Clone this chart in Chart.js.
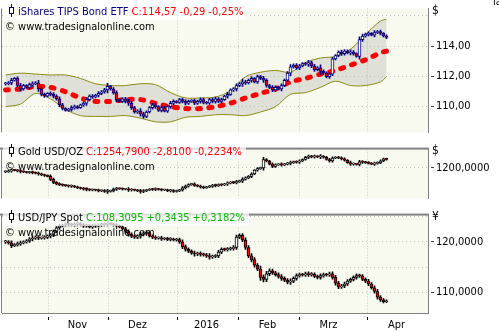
<!DOCTYPE html>
<html>
<head>
<meta charset="utf-8">
<script src="https://cdn.jsdelivr.net/npm/chart.js@4.4.1/dist/chart.umd.min.js"></script>
<style>
  body { margin: 0; background: #fff; width: 499px; height: 332px; overflow: hidden; position: relative;
         font-family: 'DejaVu Sans Condensed', 'DejaVu Sans', sans-serif; font-stretch: condensed; }
  canvas { position: absolute; left: 0; }
  .ttl { position: absolute; left: 3px; height: 17px; line-height: 17px; font-size: 11px; white-space: nowrap;
         background: rgba(255,255,255,0.72); padding: 0 4px 0 4px; z-index: 3; }
  .ttl svg { display: inline-block; vertical-align: -2px; margin-right: 3px; }
  .wm { position: absolute; left: 5px; height: 13px; line-height: 13px; font-size: 11px; white-space: nowrap; color: #000; z-index: 2; }
  .unit { position: absolute; left: 432px; font-size: 12px; line-height: 16px; }
</style>
</head>
<body>
<canvas id="p1" width="499" height="141" style="top:0;width:499px;height:141px"></canvas>
<canvas id="p2" width="499" height="66" style="top:141px;width:499px;height:66px"></canvas>
<canvas id="p3" width="499" height="125" style="top:207px;width:499px;height:125px"></canvas>

<div class="ttl" style="top:3px;color:#000080"><svg width="8" height="13"><path d="M4.5 0V13" stroke="#000080"/><rect x="2.5" y="3.5" width="4" height="6" fill="#fff" stroke="#000080"/></svg>iShares TIPS Bond ETF <span style="color:#f00">C:114,57 -0,29 -0,25%</span></div>
<div class="wm" style="top:20px">© www.tradesignalonline.com</div>

<div class="ttl" style="top:143px;color:#000"><svg width="8" height="13"><path d="M4.5 0V13" stroke="#000"/><rect x="2.5" y="3.5" width="4" height="6" fill="#fff" stroke="#000"/></svg>Gold USD/OZ <span style="color:#f00">C:1254,7900 -2,8100 -0,2234%</span></div>
<div class="wm" style="top:160px">© www.tradesignalonline.com</div>

<div class="ttl" style="top:209px;color:#000"><svg width="8" height="13"><path d="M4.5 0V13" stroke="#000"/><rect x="2.5" y="3.5" width="4" height="6" fill="#fff" stroke="#000"/></svg>USD/JPY Spot <span style="color:#00bb00">C:108,3095 +0,3435 +0,3182%</span></div>
<div class="wm" style="top:226px">© www.tradesignalonline.com</div>

<div class="unit" style="top:2px">$</div>
<div class="unit" style="top:142px">$</div>
<div class="unit" style="top:208px">¥</div>
<div style="position:absolute;left:493px;top:-5px;font-size:11px;line-height:13px">la</div>

<script>
// x axis: one unit per trading day, month boundaries as ticks
const monthTicks = [14.33, 34.33, 57.33, 77.67, 98, 120.67];
const monthLabels = ['Nov', 'Dez', '2016', 'Feb', 'Mrz', 'Apr'];

// iShares TIPS Bond ETF, daily closes
const tipsClose = [
  111.51,111.57,111.74,111.86,111.39,111.16,111.39,111.27,111.45,111.51,
  111.57,111.16,110.81,110.69,110.87,110.81,110.69,110.51,110.11,109.87,
  109.75,109.81,109.93,109.99,109.93,110.11,110.22,110.46,110.69,110.63,
  110.75,110.87,110.98,111.10,111.33,111.16,110.92,110.46,110.34,110.51,
  110.34,110.22,109.93,109.64,109.70,109.52,109.35,109.64,109.93,110.11,
  109.99,109.75,109.93,109.70,109.99,110.22,110.34,110.28,110.46,110.34,
  110.22,110.34,110.40,110.22,110.34,110.46,110.28,110.22,110.46,110.34,
  110.51,110.34,110.46,110.69,110.81,111.10,111.16,111.39,111.51,111.63,
  111.57,111.74,111.86,111.63,111.98,111.86,111.74,111.39,111.27,111.10,
  111.27,111.16,111.39,111.74,112.21,112.62,112.74,112.56,112.68,112.85,
  112.80,112.91,112.68,112.44,112.56,112.33,112.21,111.98,112.15,113.15,
  113.38,113.61,113.50,113.67,113.56,113.61,113.50,113.32,114.43,114.67,
  114.78,114.84,114.73,114.90,114.96,114.84,114.67,114.57
];
const tipsWick = [
  0.10,0.08,0.12,0.06,0.10,0.14,0.08,0.06,0.10,0.12,0.08,0.16,0.10,0.08,0.06,0.10,0.12,0.08,0.14,0.10,
  0.06,0.08,0.12,0.10,0.08,0.06,0.10,0.14,0.08,0.10,0.06,0.12,0.08,0.10,0.20,0.08,0.10,0.12,0.06,0.08,
  0.10,0.14,0.12,0.08,0.10,0.16,0.12,0.08,0.06,0.10,0.12,0.08,0.10,0.06,0.08,0.12,0.10,0.06,0.08,0.10,
  0.12,0.08,0.06,0.10,0.08,0.12,0.10,0.06,0.08,0.10,0.12,0.08,0.10,0.06,0.14,0.08,0.10,0.12,0.08,0.18,
  0.10,0.08,0.12,0.06,0.10,0.08,0.14,0.10,0.08,0.12,0.10,0.06,0.12,0.08,0.10,0.16,0.08,0.10,0.12,0.06,
  0.08,0.14,0.10,0.12,0.08,0.20,0.10,0.08,0.12,0.10,0.06,0.08,0.12,0.10,0.08,0.14,0.10,0.06,0.18,0.12,
  0.08,0.10,0.06,0.12,0.08,0.10,0.06,0.08
];
// Bollinger bands and moving average, sampled every 5 days
const bandDays = [0,5,10,15,20,25,30,35,40,45,50,55,60,65,70,75,80,85,90,95,100,105,110,115,120,125,127];
const tipsUpper = [112.09,112.21,112.15,112.09,112.09,111.86,111.51,111.39,111.39,111.51,111.45,110.92,110.57,110.57,
                   110.63,111.04,111.98,112.27,112.39,112.27,112.91,113.21,113.32,113.79,114.78,115.66,115.78];
const tipsLower = [109.99,110.16,110.87,110.51,109.81,109.40,109.35,109.35,109.40,109.23,108.99,108.99,109.29,109.35,
                   109.46,109.46,109.40,109.64,109.99,110.81,110.92,111.27,111.68,111.39,111.39,111.63,111.98];
const tipsAvg   = [111.10,111.16,111.33,111.27,110.98,110.57,110.34,110.34,110.46,110.46,110.22,109.99,109.87,109.87,
                   109.99,110.22,110.57,110.87,111.16,111.63,111.86,112.15,112.39,112.74,113.09,113.56,113.67];
const tipsTicks = [110, 112, 114, 116];
const tipsTickText = ['110,00', '112,00', '114,00', ''];

// Gold USD/OZ, daily closes
const goldClose = [
  1175.6,1180.5,1185.4,1184.0,1180.5,1176.8,1174.2,1170.7,1172.1,1169.5,
  1165.9,1161.0,1156.1,1151.2,1146.3,1126.8,1107.3,1097.6,1092.7,1088.9,
  1086.2,1082.9,1084.1,1078.0,1073.2,1068.3,1064.6,1062.2,1058.5,1060.3,
  1057.1,1053.7,1055.2,1048.8,1050.3,1053.7,1063.4,1068.3,1066.1,1063.4,
  1064.8,1058.5,1060.2,1057.0,1053.7,1048.8,1053.7,1058.5,1063.4,1061.9,
  1064.6,1062.1,1058.5,1059.9,1053.7,1055.1,1048.8,1053.7,1058.5,1073.2,
  1082.9,1092.7,1097.6,1087.8,1082.9,1078.0,1073.2,1078.0,1082.9,1087.8,
  1086.3,1092.7,1091.0,1097.6,1102.4,1107.3,1105.8,1112.2,1117.1,1126.8,
  1136.6,1146.3,1161.0,1185.4,1195.1,1200.0,1253.7,1243.9,1224.4,1209.8,
  1219.5,1224.4,1219.5,1224.4,1229.3,1234.1,1239.0,1237.2,1243.9,1253.7,
  1268.3,1273.2,1271.0,1274.5,1270.8,1273.2,1268.3,1253.7,1243.9,1263.4,
  1268.3,1263.4,1258.5,1248.8,1234.1,1224.4,1226.0,1222.1,1239.0,1237.4,
  1234.1,1229.3,1224.4,1229.3,1234.1,1243.9,1258.5,1254.79
];
const goldWick = [
  6,5,8,4,6,9,5,4,6,8,5,7,6,5,4,9,8,6,7,5,
  4,6,8,5,6,4,7,9,5,6,4,8,5,6,12,5,7,8,4,6,
  5,9,8,5,6,10,7,5,4,6,8,5,6,4,5,8,6,4,5,7,
  8,6,4,7,5,8,6,4,5,7,8,5,6,4,9,5,7,8,5,11,
  6,5,8,4,7,5,14,6,5,8,7,4,8,5,6,10,5,7,8,4,
  5,9,7,8,5,12,6,5,8,7,4,5,8,6,5,9,7,4,10,8,
  5,6,4,8,5,7,4,5
];
const goldTicks = [1200];
const goldTickText = ['1200,0000'];

// USD/JPY Spot, daily closes
const jpyClose = [
  120.00,119.81,119.26,119.44,119.63,119.81,120.00,120.19,120.56,120.74,
  120.93,120.74,120.80,120.93,121.11,121.30,122.04,122.78,123.15,123.33,
  123.52,123.45,123.33,123.52,123.60,123.33,123.15,123.22,122.96,123.15,
  123.08,123.33,123.40,123.52,123.61,123.50,123.33,123.15,122.96,122.59,
  122.04,121.48,121.11,120.93,121.11,121.48,121.67,121.85,121.11,120.93,
  120.74,120.80,120.56,120.62,120.50,120.56,120.37,120.44,120.00,119.07,
  118.52,118.15,117.78,117.59,117.66,117.52,117.41,117.22,117.04,117.10,
  117.22,117.96,118.52,118.45,118.58,118.70,118.89,120.93,121.30,120.37,
  118.89,117.22,116.48,115.37,114.63,112.96,112.59,113.70,114.26,113.89,
  113.52,113.15,112.78,112.41,112.04,112.22,112.78,113.33,113.52,113.45,
  113.70,113.52,113.60,113.15,112.96,113.33,113.52,113.45,113.70,112.96,
  111.85,111.11,111.30,111.67,112.22,112.59,112.96,113.33,113.26,112.59,
  112.22,111.67,110.93,110.19,109.07,108.52,108.15,108.31
];
const jpyWick = [
  0.30,0.25,0.40,0.20,0.30,0.35,0.20,0.25,0.30,0.40,0.25,0.30,0.20,0.25,0.30,0.35,0.30,0.25,0.30,0.20,
  0.25,0.30,0.20,0.25,0.35,0.20,0.30,0.25,0.20,0.30,0.25,0.20,0.30,0.25,0.35,0.20,0.25,0.30,0.20,0.25,
  0.30,0.35,0.30,0.25,0.30,0.40,0.30,0.25,0.20,0.30,0.25,0.20,0.30,0.20,0.25,0.30,0.20,0.25,0.30,0.40,
  0.35,0.30,0.25,0.40,0.30,0.35,0.25,0.30,0.45,0.30,0.25,0.35,0.30,0.25,0.30,0.25,0.35,0.40,0.30,0.35,
  0.40,0.35,0.45,0.40,0.35,0.60,0.50,0.45,0.40,0.35,0.30,0.35,0.40,0.30,0.35,0.45,0.30,0.35,0.30,0.25,
  0.30,0.35,0.30,0.25,0.30,0.35,0.30,0.25,0.30,0.35,0.40,0.35,0.30,0.35,0.30,0.25,0.30,0.35,0.30,0.25,
  0.30,0.35,0.30,0.35,0.40,0.30,0.25,0.20
];
const jpyTicks = [110, 115, 120, 125];
const jpyTickText = ['110,0000', '', '120,0000', ''];

const xMin = -7 / 6, xMax = xMin + 142;
const plotBg = '#F8FAF0';
const gridColor = '#C4C4C4';
const font = { family: "'DejaVu Sans Condensed', 'DejaVu Sans', sans-serif", size: 11 };

// cream plot area, left frame line, separator above the panel
const frame = {
  id: 'frame',
  beforeDraw(chart, args, opts) {
    const { ctx, chartArea: a } = chart;
    ctx.save();
    ctx.fillStyle = plotBg;
    ctx.fillRect(a.left, a.top, a.right - a.left, a.bottom - a.top);
    ctx.fillStyle = '#808080';
    ctx.fillRect(1, a.top, 1, a.bottom - a.top);
    if (opts.sep) ctx.fillRect(0, a.top - 2, a.right + 1, 2);
    ctx.restore();
  }
};

// candle bodies (open = previous close) and wicks as floating bars
const candleSets = (close, wick, edge, down) => {
  const bodies = [], sticks = [], fills = [];
  close.forEach((c, i) => {
    const o = i ? close[i - 1] : c;
    const w = wick[i] || 0;
    bodies.push({ x: i, y: [o, c] });
    sticks.push({ x: i, y: [Math.min(o, c) - w, Math.max(o, c) + w] });
    fills.push(c < o ? down : '#ffffff');
  });
  return [
    { type: 'bar', data: bodies, backgroundColor: fills, borderColor: edge, borderWidth: 1, borderSkipped: false,
      barThickness: 3, minBarLength: 1, grouped: false, order: 0 },
    { type: 'bar', data: sticks, backgroundColor: edge, borderWidth: 0, barThickness: 1, grouped: false, order: 1 }
  ];
};

const buildPanel = (id, p) => new Chart(document.getElementById(id), {
  type: 'line',
  data: { datasets: p.datasets },
  options: {
    responsive: false,
    animation: false,
    events: [],
    layout: { padding: { left: 2, right: 0, top: p.top, bottom: 0 } },
    plugins: { legend: { display: false }, tooltip: { enabled: false }, frame: { sep: p.sep } },
    scales: {
      x: {
        type: 'linear', min: xMin, max: xMax, offset: false,
        afterBuildTicks: s => { s.ticks = monthTicks.map(v => ({ value: v })); },
        afterFit: s => { s.height = p.bottom ? 19 : 0; },
        grid: { offset: false, color: gridColor, drawTicks: p.bottom, tickLength: 7, tickColor: '#000',
                tickBorderDash: [0, 3, 4, 20] },
        border: { display: p.bottom, color: '#808080', width: 1, dash: [1, 2] },
        ticks: { display: p.bottom, autoSkip: false, maxRotation: 0, labelOffset: 29, padding: -1, font, color: '#000',
                 callback: (v, i) => monthLabels[i] }
      },
      y: {
        position: 'right', min: p.min, max: p.max,
        afterBuildTicks: s => { s.ticks = p.ticks.map(v => ({ value: v })); },
        afterFit: s => { s.width = 71; },
        grid: { color: gridColor, tickLength: 6, tickBorderDash: [0, 2, 3, 20],
                tickColor: c => (p.text[p.ticks.indexOf(c.tick.value)] ? '#404040' : 'rgba(0,0,0,0)') },
        border: { display: true, color: '#808080', width: 1, dash: [1, 3] },
        ticks: { font, color: '#000', padding: 2, autoSkip: false, callback: v => p.text[p.ticks.indexOf(v)] }
      }
    }
  },
  plugins: [frame]
});

const line = (ys, color, width, extra) => Object.assign({
  type: 'line', data: bandDays.map((d, i) => ({ x: d, y: ys[i] })), borderColor: color, borderWidth: width,
  pointRadius: 0, tension: 0.3, fill: false
}, extra);

buildPanel('p1', {
  top: 1, sep: false, bottom: false, min: 108.29, max: 116.48, ticks: tipsTicks, text: tipsTickText,
  datasets: [
    ...candleSets(tipsClose, tipsWick, '#000080', '#ff0000'),
    line(tipsAvg, '#ff0000', 5, { borderDash: [3, 8.5], borderCapStyle: 'round', order: 2 }),
    line(tipsUpper, '#8c8c14', 1, { order: 3 }),
    line(tipsLower, '#8c8c14', 1, { order: 4, fill: '-1', backgroundColor: 'rgba(170,172,165,0.32)' })
  ]
});

buildPanel('p2', {
  top: 2, sep: true, bottom: false, min: 1004.9, max: 1317.1, ticks: goldTicks, text: goldTickText,
  datasets: candleSets(goldClose, goldWick, '#000000', '#ff0000')
});

buildPanel('p3', {
  top: 2, sep: true, bottom: true, min: 105.93, max: 125.19, ticks: jpyTicks, text: jpyTickText,
  datasets: candleSets(jpyClose, jpyWick, '#000000', '#ff0000')
});
</script>
</body>
</html>
